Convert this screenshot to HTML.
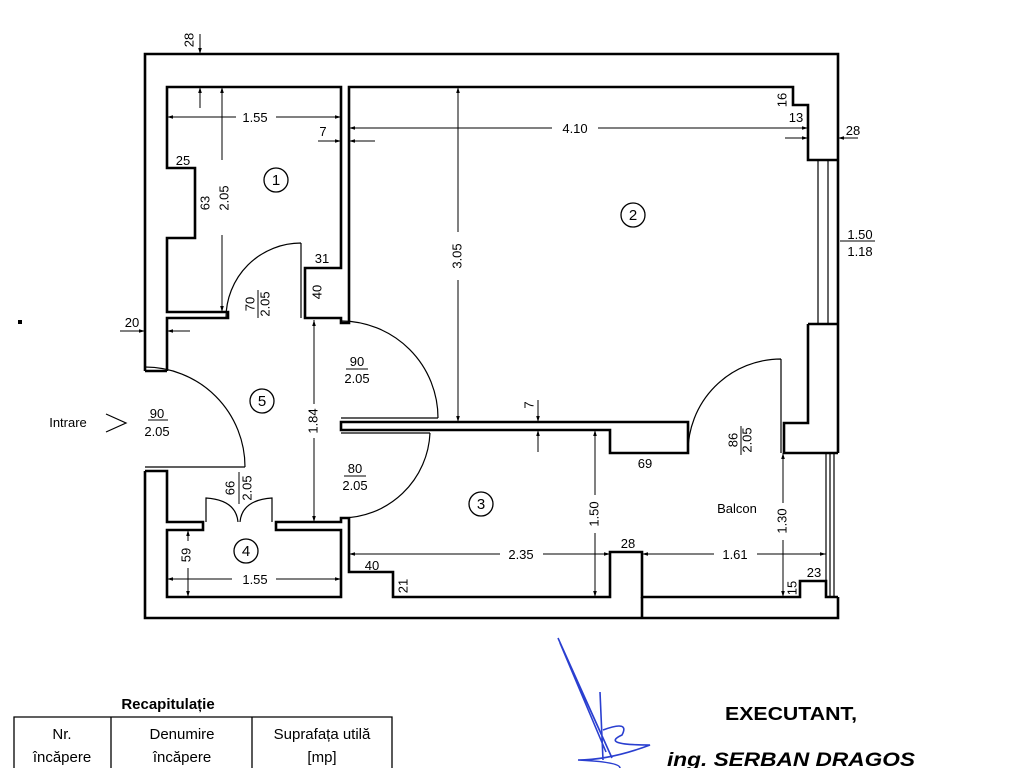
<!DOCTYPE html>
<html><head><meta charset="utf-8"><style>
html,body{margin:0;padding:0;background:#fff;}
svg{display:block;font-family:"Liberation Sans",sans-serif;}
</style></head><body>
<svg width="1024" height="768" viewBox="0 0 1024 768" xmlns="http://www.w3.org/2000/svg">
<defs>
<marker id="a" viewBox="0 0 10 10" refX="10" refY="5" markerWidth="6" markerHeight="6" orient="auto-start-reverse"><path d="M0,2 L10,5 L0,8 z" fill="#000"/></marker>
</defs>
<rect width="1024" height="768" fill="#fff"/>
<g fill="none" stroke="#000" stroke-width="2.6" stroke-linejoin="miter">
<path d="M145,371 V54 H838 V453"/>
<path d="M145,471 V618 H838 V597"/>
<path d="M167,371 V318 H228 V312 H167 V238 H195 V168 H167 V87 H341 V268 H305 V318 H341 V323 H349 V87 H793 V105 H808 V160 H838"/>
<path d="M167,371 H145"/>
<path d="M808,324 H838 M808,324 V423 H784 V453 H838"/>
<path d="M341,422 H688 V453 H610 V430 H341 Z"/>
<path d="M145,471 H167 V522 H203 V530 H167 V597 H341 V530 H276 V522 H341 V518 H349 V572 H393 V597 H610 V552 H642 V597 H800 V581 H826 V597 H838"/>
<path d="M642,597 V618"/>
</g>
<g fill="none" stroke="#000" stroke-width="1.2">
<path d="M818,160 V324 M828,160 V324"/>
<path d="M826,453 V597 M830,453 V597 M834,453 V597"/>
<path d="M301,243 V318 M301,243 A75,75 0 0 0 226,318"/>
<path d="M341,418 H438 M341,321 A97,97 0 0 1 438,418"/>
<path d="M341,433 H430 M430,433 A89,89 0 0 1 341,518"/>
<path d="M145,467 H245 M145,367 A100,100 0 0 1 245,467"/>
<path d="M781,359 V453 M781,359 A93,93 0 0 0 688,453"/>
<path d="M206,522 V498 Q236,500 238,522 M272,522 V498 Q242,500 240,522"/>
</g>
<g stroke="#000" stroke-width="1" fill="none">
<line x1="200" y1="34" x2="200" y2="54" marker-end="url(#a)"/>
<line x1="167" y1="117" x2="236" y2="117" marker-start="url(#a)"/><line x1="276" y1="117" x2="341" y2="117" marker-end="url(#a)"/>
<line x1="222" y1="87" x2="222" y2="160" marker-start="url(#a)"/><line x1="222" y1="235" x2="222" y2="312" marker-end="url(#a)"/>
<line x1="200" y1="108" x2="200" y2="87" marker-end="url(#a)"/>
<line x1="318" y1="141" x2="341" y2="141" marker-end="url(#a)"/><line x1="375" y1="141" x2="349" y2="141" marker-end="url(#a)"/>
<line x1="349" y1="128" x2="552" y2="128" marker-start="url(#a)"/><line x1="598" y1="128" x2="808" y2="128" marker-end="url(#a)"/>
<line x1="458" y1="87" x2="458" y2="232" marker-start="url(#a)"/><line x1="458" y1="280" x2="458" y2="422" marker-end="url(#a)"/>
<line x1="785" y1="138" x2="808" y2="138" marker-end="url(#a)"/>
<line x1="858" y1="138" x2="838" y2="138" marker-end="url(#a)"/>
<line x1="840" y1="241" x2="875" y2="241"/>
<line x1="120" y1="331" x2="145" y2="331" marker-end="url(#a)"/><line x1="190" y1="331" x2="167" y2="331" marker-end="url(#a)"/>
<line x1="314" y1="320" x2="314" y2="404" marker-start="url(#a)"/><line x1="314" y1="438" x2="314" y2="522" marker-end="url(#a)"/>
<line x1="538" y1="400" x2="538" y2="422" marker-end="url(#a)"/><line x1="538" y1="452" x2="538" y2="430" marker-end="url(#a)"/>
<line x1="595" y1="430" x2="595" y2="495" marker-start="url(#a)"/><line x1="595" y1="533" x2="595" y2="597" marker-end="url(#a)"/>
<line x1="783" y1="453" x2="783" y2="503" marker-start="url(#a)"/><line x1="783" y1="540" x2="783" y2="597" marker-end="url(#a)"/>
<line x1="349" y1="554" x2="500" y2="554" marker-start="url(#a)"/><line x1="543" y1="554" x2="610" y2="554" marker-end="url(#a)"/>
<line x1="642" y1="554" x2="714" y2="554" marker-start="url(#a)"/><line x1="757" y1="554" x2="826" y2="554" marker-end="url(#a)"/>
<line x1="188" y1="530" x2="188" y2="541" marker-start="url(#a)"/><line x1="188" y1="568" x2="188" y2="597" marker-end="url(#a)"/>
<line x1="167" y1="579" x2="232" y2="579" marker-start="url(#a)"/><line x1="276" y1="579" x2="341" y2="579" marker-end="url(#a)"/>
<line x1="148" y1="420" x2="168" y2="420"/>
<line x1="346" y1="369" x2="368" y2="369"/>
<line x1="344" y1="476" x2="366" y2="476"/>
<line x1="258" y1="290" x2="258" y2="318"/>
<line x1="239" y1="472" x2="239" y2="504"/>
<line x1="741" y1="426" x2="741" y2="455"/>
</g>
<g font-size="13" fill="#000" text-anchor="middle">
<text x="190" y="40" transform="rotate(-90 190 40)" dominant-baseline="middle">28</text>
<text x="255" y="122">1.55</text>
<text x="225" y="198" transform="rotate(-90 225 198)" dominant-baseline="middle">2.05</text>
<text x="206" y="203" transform="rotate(-90 206 203)" dominant-baseline="middle">63</text>
<text x="183" y="165">25</text>
<text x="323" y="136">7</text>
<text x="575" y="133">4.10</text>
<text x="322" y="263">31</text>
<text x="318" y="292" transform="rotate(-90 318 292)" dominant-baseline="middle">40</text>
<text x="251" y="304" transform="rotate(-90 251 304)" dominant-baseline="middle">70</text>
<text x="266" y="304" transform="rotate(-90 266 304)" dominant-baseline="middle">2.05</text>
<text x="458" y="256" transform="rotate(-90 458 256)" dominant-baseline="middle">3.05</text>
<text x="783" y="100" transform="rotate(-90 783 100)" dominant-baseline="middle">16</text>
<text x="796" y="122">13</text>
<text x="853" y="135">28</text>
<text x="860" y="239">1.50</text>
<text x="860" y="256">1.18</text>
<text x="132" y="327">20</text>
<text x="357" y="366">90</text>
<text x="357" y="383">2.05</text>
<text x="314" y="421" transform="rotate(-90 314 421)" dominant-baseline="middle">1.84</text>
<text x="68" y="427">Intrare</text>
<text x="157" y="418">90</text>
<text x="157" y="436">2.05</text>
<text x="355" y="473">80</text>
<text x="355" y="490">2.05</text>
<text x="231" y="488" transform="rotate(-90 231 488)" dominant-baseline="middle">66</text>
<text x="248" y="488" transform="rotate(-90 248 488)" dominant-baseline="middle">2.05</text>
<text x="530" y="405" transform="rotate(-90 530 405)" dominant-baseline="middle">7</text>
<text x="595" y="514" transform="rotate(-90 595 514)" dominant-baseline="middle">1.50</text>
<text x="645" y="468">69</text>
<text x="734" y="440" transform="rotate(-90 734 440)" dominant-baseline="middle">86</text>
<text x="748" y="440" transform="rotate(-90 748 440)" dominant-baseline="middle">2.05</text>
<text x="737" y="513">Balcon</text>
<text x="783" y="521" transform="rotate(-90 783 521)" dominant-baseline="middle">1.30</text>
<text x="521" y="559">2.35</text>
<text x="628" y="548">28</text>
<text x="735" y="559">1.61</text>
<text x="372" y="570">40</text>
<text x="404" y="586" transform="rotate(-90 404 586)" dominant-baseline="middle">21</text>
<text x="793" y="588" transform="rotate(-90 793 588)" dominant-baseline="middle">15</text>
<text x="814" y="577">23</text>
<text x="187" y="555" transform="rotate(-90 187 555)" dominant-baseline="middle">59</text>
<text x="255" y="584">1.55</text>
</g>
<path d="M106,414 L126,423 L106,432" fill="none" stroke="#000" stroke-width="1.2"/>
<g fill="none" stroke="#000" stroke-width="1.3">
<circle cx="276" cy="180" r="12"/><circle cx="633" cy="215" r="12"/><circle cx="481" cy="504" r="12"/><circle cx="246" cy="551" r="12"/><circle cx="262" cy="401" r="12"/>
</g>
<g font-size="15" text-anchor="middle">
<text x="276" y="185">1</text><text x="633" y="220">2</text><text x="481" y="509">3</text><text x="246" y="556">4</text><text x="262" y="406">5</text>
</g>
<rect x="18" y="320" width="4" height="4" fill="#000"/>
<text x="168" y="709" font-size="15" font-weight="bold" text-anchor="middle">Recapitulație</text>
<g stroke="#000" stroke-width="1.3" fill="none">
<path d="M14,768 V717 H392 V768 M111,717 V768 M252,717 V768"/>
</g>
<g font-size="15" text-anchor="middle">
<text x="62" y="739">Nr.</text><text x="62" y="762">încăpere</text>
<text x="182" y="739">Denumire</text><text x="182" y="762">încăpere</text>
<text x="322" y="739">Suprafața utilă</text><text x="322" y="762">[mp]</text>
</g>
<text x="725" y="720" font-size="18" font-weight="bold" textLength="132" lengthAdjust="spacingAndGlyphs">EXECUTANT,</text>
<text x="667" y="766" font-size="19" font-weight="bold" font-style="italic" textLength="248" lengthAdjust="spacingAndGlyphs">ing.  SERBAN  DRAGOS</text>
<path d="M558,638 L612,758 L560,643 L606,752 M600,692 L603,760 M603,730 Q630,720 622,735 Q600,745 650,745 Q610,760 578,760 Q620,762 620,768" fill="none" stroke="#2a3fd0" stroke-width="1.6"/>
</svg>
</body></html>
